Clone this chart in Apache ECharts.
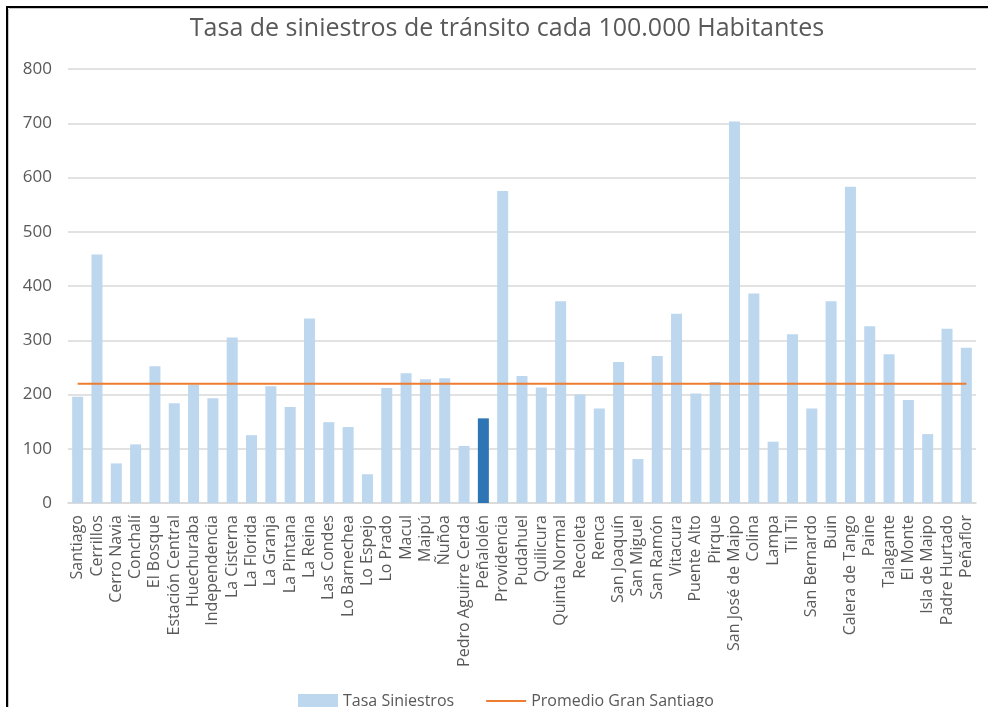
<!DOCTYPE html>
<html>
<head>
<meta charset="utf-8">
<script src="https://cdn.jsdelivr.net/npm/echarts@6/dist/echarts.min.js"></script>
<style>
  html, body { margin: 0; padding: 0; background: #ffffff; }
  #chart { width: 988px; height: 707px; }
</style>
</head>
<body>
<div id="chart"></div>
<script>
// Comunas del Gran Santiago
const comunas = [
  'Santiago', 'Cerrillos', 'Cerro Navia', 'Conchalí', 'El Bosque', 'Estación Central',
  'Huechuraba', 'Independencia', 'La Cisterna', 'La Florida', 'La Granja', 'La Pintana',
  'La Reina', 'Las Condes', 'Lo Barnechea', 'Lo Espejo', 'Lo Prado', 'Macul', 'Maipú',
  'Ñuñoa', 'Pedro Aguirre Cerda', 'Peñalolén', 'Providencia', 'Pudahuel', 'Quilicura',
  'Quinta Normal', 'Recoleta', 'Renca', 'San Joaquín', 'San Miguel', 'San Ramón',
  'Vitacura', 'Puente Alto', 'Pirque', 'San José de Maipo', 'Colina', 'Lampa', 'Til Til',
  'San Bernardo', 'Buin', 'Calera de Tango', 'Paine', 'Talagante', 'El Monte',
  'Isla de Maipo', 'Padre Hurtado', 'Peñaflor'
];

// Tasa de siniestros por cada 100.000 habitantes
const tasaSiniestros = [
  196, 458, 73, 108, 252, 184,
  218, 193, 305, 125, 215, 177,
  340, 149, 140, 53, 212, 239, 228,
  230, 105, 156, 575, 234, 213,
  372, 200, 174, 260, 81, 271,
  349, 202, 223, 703, 386, 113, 311,
  174, 372, 583, 326, 274, 190,
  127, 321, 286
];

// Promedio del Gran Santiago
const promedioGranSantiago = 220;

// Comuna destacada
const comunaDestacada = 'Peñalolén';

// Marcas del eje vertical
const yTicks = [0, 100, 200, 300, 400, 500, 600, 700, 800];

const colorBarra = '#BDD7EE';
const colorDestacado = '#2E75B6';
const colorPromedio = '#ED7D31';
const colorTexto = '#595959';
const fuente = 'Open Sans';

const barData = comunas.map((c, i) => ({
  value: tasaSiniestros[i],
  itemStyle: { color: c === comunaDestacada ? colorDestacado : colorBarra }
}));
const lineaPromedio = comunas.map(() => promedioGranSantiago);

const chart = echarts.init(document.getElementById('chart'), null, { renderer: 'canvas' });
chart.setOption({
  animation: false,
  backgroundColor: '#ffffff',
  textStyle: { fontFamily: fuente },
  title: {
    text: 'Tasa de siniestros de tránsito cada 100.000 Habitantes',
    left: 502,
    textAlign: 'center',
    top: 11,
    textStyle: { fontFamily: fuente, fontSize: 25, fontWeight: 'normal', color: colorTexto }
  },
  grid: { left: 68, right: 12, top: 69, bottom: 204, containLabel: false },
  legend: {
    bottom: -7,
    left: 293,
    itemGap: 31,
    itemWidth: 40,
    itemHeight: 14,
    textStyle: { fontFamily: fuente, fontSize: 16, color: colorTexto },
    data: [
      { name: 'Tasa Siniestros', icon: 'rect', itemStyle: { color: colorBarra } },
      { name: 'Promedio Gran Santiago', itemStyle: { opacity: 0 } }
    ]
  },
  xAxis: {
    type: 'category',
    data: comunas,
    axisLine: { lineStyle: { color: '#D9D9D9', width: 1.5 } },
    axisTick: { show: false },
    axisLabel: {
      rotate: 90,
      interval: 0,
      margin: 12,
      fontFamily: fuente,
      fontSize: 16,
      color: colorTexto
    }
  },
  yAxis: {
    type: 'value',
    min: yTicks[0],
    max: yTicks[yTicks.length - 1],
    interval: yTicks[1] - yTicks[0],
    axisLine: { show: false },
    axisTick: { show: false },
    axisLabel: { margin: 16, fontFamily: fuente, fontSize: 17, color: colorTexto },
    splitLine: { lineStyle: { color: '#D9D9D9', width: 1.5 } }
  },
  series: [
    {
      name: 'Tasa Siniestros',
      type: 'bar',
      data: barData,
      barCategoryGap: '43%',
      itemStyle: { color: colorBarra }
    },
    {
      name: 'Promedio Gran Santiago',
      type: 'line',
      data: lineaPromedio,
      symbol: 'none',
      lineStyle: { color: colorPromedio, width: 2 },
      itemStyle: { color: colorPromedio },
      z: 3
    }
  ],
  graphic: [
    { type: 'line', shape: { x1: 6, y1: 7, x2: 988, y2: 7 }, style: { stroke: '#000000', lineWidth: 2 } },
    { type: 'line', shape: { x1: 7, y1: 6, x2: 7, y2: 707 }, style: { stroke: '#000000', lineWidth: 2 } },
    { type: 'line', shape: { x1: 9, y1: 8.5, x2: 988, y2: 8.5 }, style: { stroke: '#C8C8C8', lineWidth: 1 } },
    { type: 'line', shape: { x1: 8.5, y1: 9, x2: 8.5, y2: 707 }, style: { stroke: '#C8C8C8', lineWidth: 1 } }
  ]
});
</script>
</body>
</html>
